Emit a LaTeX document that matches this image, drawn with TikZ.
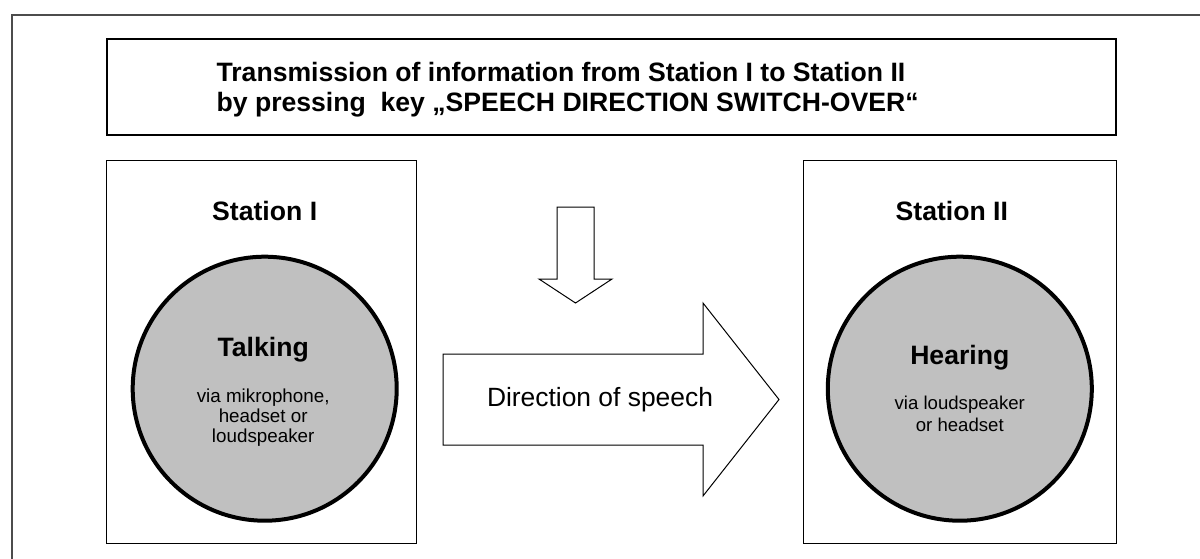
\documentclass[tikz,border=0pt]{standalone}
\usepackage{fontspec}
\setmainfont{Liberation Sans}
\usetikzlibrary{positioning}
\definecolor{discgray}{RGB}{192,192,192}

\begin{document}
\begin{tikzpicture}[x=0.5pt,y=-0.5pt,semithick,node distance=12pt]
\tikzstyle{frame} = [draw, rectangle, line width=0.7pt, inner sep=0pt]
\tikzstyle{headline} = [align=left, inner sep=0pt, font=\fontsize{13.3}{15}\selectfont\bfseries]
\tikzstyle{station} = [frame, minimum width=155pt, minimum height=191.5pt]
\tikzstyle{mode} = [inner sep=0pt, font=\fontsize{13.3}{15}\selectfont\bfseries]
\tikzstyle{disc} = [circle, draw, line width=2pt, fill=discgray, minimum size=132pt, inner sep=0pt]
\tikzstyle{means} = [align=center, inner sep=0pt, font=\fontsize{9.4}{10.2}\selectfont]
\tikzstyle{blockarrow} = [draw, line width=0.5pt, fill=white, line join=miter]

\clip (0,0) rectangle (1200,558);
\path[draw, line width=0.6pt, black!70] (12,15) rectangle (1230,590);

\node[frame, line width=1pt, minimum width=504.5pt, minimum height=48pt] (HEADER) at (611.5,87) {};
\node[headline, anchor=west] (HEADTEXT) at ([xshift=55pt,yshift=-1.5pt]HEADER.west)
   {
      Transmission of information from Station I to Station II\\
      by pressing \ key „SPEECH DIRECTION SWITCH-OVER“
   };

\node[station, below=12pt of HEADER.south west, anchor=north west] (STATIONI) {};
\node[station, minimum width=156.5pt, below=12pt of HEADER.south east, anchor=north east] (STATIONII) {};

\node[mode] (STATIONINAME) at ([xshift=1.5pt,yshift=-25.5pt]STATIONI.north) {Station I};
\node[mode] (STATIONIINAME) at ([xshift=-4pt,yshift=-25.5pt]STATIONII.north) {Station II};

\node[disc] (TALK) at ([xshift=1.5pt,yshift=-18.25pt]STATIONI.center) {};
\node[disc] (HEAR) at ([yshift=-18.25pt]STATIONII.center) {};

\node[mode] (TALKMODE) at ([xshift=-0.75pt,yshift=19.5pt]TALK.center) {Talking};
\node[means] (TALKMEANS) at ([xshift=-0.75pt,yshift=-14.5pt]TALK.center)
   {
      via mikrophone,\\
      headset or\\
      loudspeaker
   };

\node[mode] (HEARMODE) at ([yshift=15.5pt]HEAR.center) {Hearing};
\node[means, font=\fontsize{9.3}{11}\selectfont] (HEARMEANS) at ([yshift=-12.35pt]HEAR.center)
   {
      via loudspeaker\\
      or headset
   };

\path[blockarrow] (557,207) -- (594,207) -- (594,279) -- (612,279) -- (575.5,303)
   -- (539,279) -- (557,279) -- cycle;
\path[blockarrow] (443,354) -- (703,354) -- (703,303) -- (779,399.5) -- (703,496)
   -- (703,445) -- (443,445) -- cycle;
\node[inner sep=0pt, font=\fontsize{13.2}{15}\selectfont] (DIRECTION) at (600,400) {Direction of speech};
\end{tikzpicture}
\end{document}
